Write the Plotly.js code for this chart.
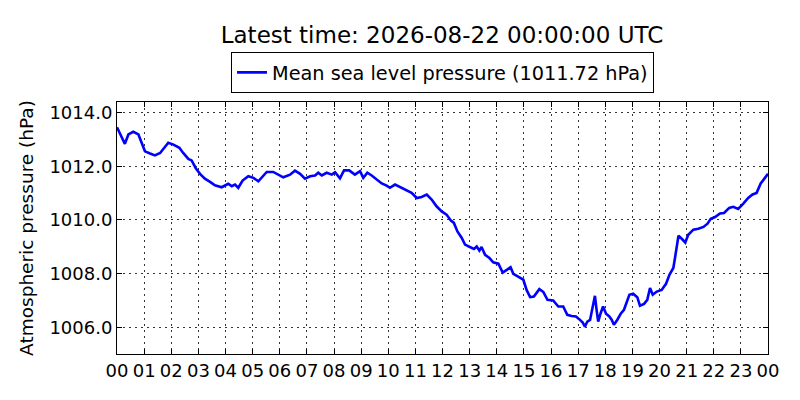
<!DOCTYPE html>
<html>
<head>
<meta charset="utf-8">
<script src="https://cdn.plot.ly/plotly-3.0.1.min.js"></script>
<style>
  html, body { margin: 0; padding: 0; background: #fff; }
  #myDiv { width: 800px; height: 400px; }
</style>
</head>
<body>
<div id="myDiv"></div>
<script>
// hours after 2026-08-21 00:00 UTC
var hours = [
  0.00, 0.17, 0.29, 0.42, 0.60, 0.79, 0.91, 1.03, 1.22, 1.40,
  1.59, 1.73, 1.89, 2.08, 2.30, 2.44, 2.63, 2.75, 2.91, 3.06,
  3.24, 3.43, 3.61, 3.86, 4.10, 4.23, 4.35, 4.47, 4.63, 4.84,
  5.03, 5.21, 5.33, 5.52, 5.76, 5.95, 6.13, 6.38, 6.56, 6.75,
  6.93, 7.12, 7.30, 7.42, 7.55, 7.73, 7.92, 8.04, 8.22, 8.37,
  8.56, 8.77, 8.96, 9.08, 9.23, 9.39, 9.57, 9.76, 9.94, 10.06,
  10.25, 10.43, 10.62, 10.86, 11.05, 11.23, 11.42, 11.60, 11.78, 11.97,
  12.15, 12.30, 12.42, 12.55, 12.71, 12.83, 13.01, 13.16, 13.26, 13.36,
  13.44, 13.57, 13.73, 13.87, 14.06, 14.22, 14.37, 14.51, 14.61, 14.79,
  14.98, 15.10, 15.23, 15.37, 15.57, 15.72, 15.87, 16.08, 16.27, 16.45,
  16.60, 16.76, 16.92, 17.04, 17.17, 17.25, 17.34, 17.44, 17.50, 17.56,
  17.62, 17.68, 17.74, 17.83, 17.92, 18.03, 18.15, 18.24, 18.32, 18.44,
  18.57, 18.69, 18.79, 18.89, 19.03, 19.18, 19.28, 19.43, 19.55, 19.65,
  19.75, 19.90, 20.08, 20.24, 20.37, 20.51, 20.58, 20.64, 20.70, 20.83,
  20.95, 21.06, 21.25, 21.43, 21.62, 21.77, 21.89, 22.05, 22.23, 22.38,
  22.57, 22.72, 22.90, 23.09, 23.27, 23.43, 23.58, 23.73, 23.85, 24.00
];
var pressure = [
  1013.46, 1013.07, 1012.84, 1013.19, 1013.29, 1013.19, 1012.88, 1012.56, 1012.48, 1012.41,
  1012.50, 1012.69, 1012.88, 1012.81, 1012.69, 1012.50, 1012.28, 1012.22, 1011.92, 1011.72,
  1011.54, 1011.42, 1011.29, 1011.22, 1011.35, 1011.26, 1011.32, 1011.20, 1011.47, 1011.63,
  1011.57, 1011.44, 1011.57, 1011.79, 1011.79, 1011.69, 1011.59, 1011.69, 1011.84, 1011.72,
  1011.54, 1011.63, 1011.66, 1011.76, 1011.66, 1011.76, 1011.69, 1011.78, 1011.55, 1011.85,
  1011.85, 1011.69, 1011.82, 1011.57, 1011.76, 1011.66, 1011.51, 1011.36, 1011.28, 1011.20,
  1011.32, 1011.23, 1011.13, 1011.01, 1010.82, 1010.86, 1010.95, 1010.76, 1010.51, 1010.32,
  1010.20, 1009.99, 1009.89, 1009.57, 1009.33, 1009.08, 1008.99, 1008.92, 1009.01, 1008.86,
  1008.99, 1008.70, 1008.58, 1008.42, 1008.37, 1008.04, 1008.14, 1008.24, 1007.99, 1007.87,
  1007.77, 1007.39, 1007.12, 1007.14, 1007.42, 1007.31, 1007.02, 1007.00, 1006.77, 1006.77,
  1006.46, 1006.42, 1006.40, 1006.30, 1006.17, 1006.02, 1006.21, 1006.27, 1006.55, 1006.77,
  1007.17, 1006.65, 1006.21, 1006.52, 1006.77, 1006.50, 1006.40, 1006.27, 1006.09, 1006.27,
  1006.50, 1006.65, 1006.90, 1007.21, 1007.25, 1007.12, 1006.80, 1006.87, 1007.02, 1007.46,
  1007.21, 1007.33, 1007.39, 1007.62, 1007.96, 1008.21, 1008.64, 1009.01, 1009.41, 1009.29,
  1009.16, 1009.45, 1009.64, 1009.67, 1009.74, 1009.86, 1010.04, 1010.11, 1010.24, 1010.26,
  1010.45, 1010.49, 1010.41, 1010.61, 1010.82, 1010.95, 1011.01, 1011.36, 1011.51, 1011.72
];
var yTicks = [1006, 1008, 1010, 1012, 1014];
var latest = '2026-08-22 00:00:00';
var seriesName = 'Mean sea level pressure (1011.72 hPa)';

var start = Date.UTC(2026, 7, 21);
function stamp(h) {
  var d = new Date(start + Math.round(h * 3600000));
  return d.toISOString().replace('T', ' ').slice(0, 19);
}
var times = hours.map(stamp);

var trace1 = {
  x: times,
  y: pressure,
  name: seriesName,
  mode: 'lines',
  line: { color: '#0000ff', width: 2.6 },
  type: 'scatter'
};

var font = 'DejaVu Sans, sans-serif';
var layout = {
  width: 800,
  height: 400,
  margin: { l: 117, r: 32, t: 102, b: 46 },
  paper_bgcolor: '#ffffff',
  plot_bgcolor: '#ffffff',
  font: { family: font, color: '#000000', size: 18 },
  showlegend: true,
  title: {
    text: 'Latest time: ' + latest + ' UTC',
    font: { family: font, size: 23, color: '#000000' },
    x: 0.5525, xanchor: 'center',
    y: 0.912, yanchor: 'middle'
  },
  legend: {
    x: 0.5, xanchor: 'center',
    y: 1.197, yanchor: 'top',
    bordercolor: '#000000', borderwidth: 1,
    bgcolor: '#ffffff',
    font: { family: font, size: 19.3 }
  },
  xaxis: {
    type: 'date',
    range: [stamp(0), stamp(24)],
    dtick: 3600000,
    tick0: stamp(0),
    tickformat: '%H',
    ticks: 'inside',
    ticklen: 5,
    tickcolor: '#000000',
    showline: true,
    linecolor: '#000000',
    linewidth: 1,
    mirror: 'ticks',
    showgrid: true,
    gridcolor: '#333333',
    griddash: '1.5px,4.5px',
    gridwidth: 1,
    zeroline: false,
    tickfont: { family: font, size: 18 }
  },
  yaxis: {
    range: [1005, 1014.4],
    tickvals: yTicks,
    tickformat: '.1f',
    ticks: 'inside',
    ticklen: 5,
    tickcolor: '#000000',
    showline: true,
    linecolor: '#000000',
    linewidth: 1,
    mirror: 'ticks',
    showgrid: true,
    gridcolor: '#333333',
    griddash: '1.5px,4.5px',
    gridwidth: 1,
    zeroline: false,
    tickfont: { family: font, size: 18 },
    title: {
      text: 'Atmospheric pressure (hPa)',
      font: { family: font, size: 18.5 },
      standoff: 10
    }
  }
};

Plotly.newPlot('myDiv', [trace1], layout, { displayModeBar: false, staticPlot: true });
</script>
</body>
</html>
